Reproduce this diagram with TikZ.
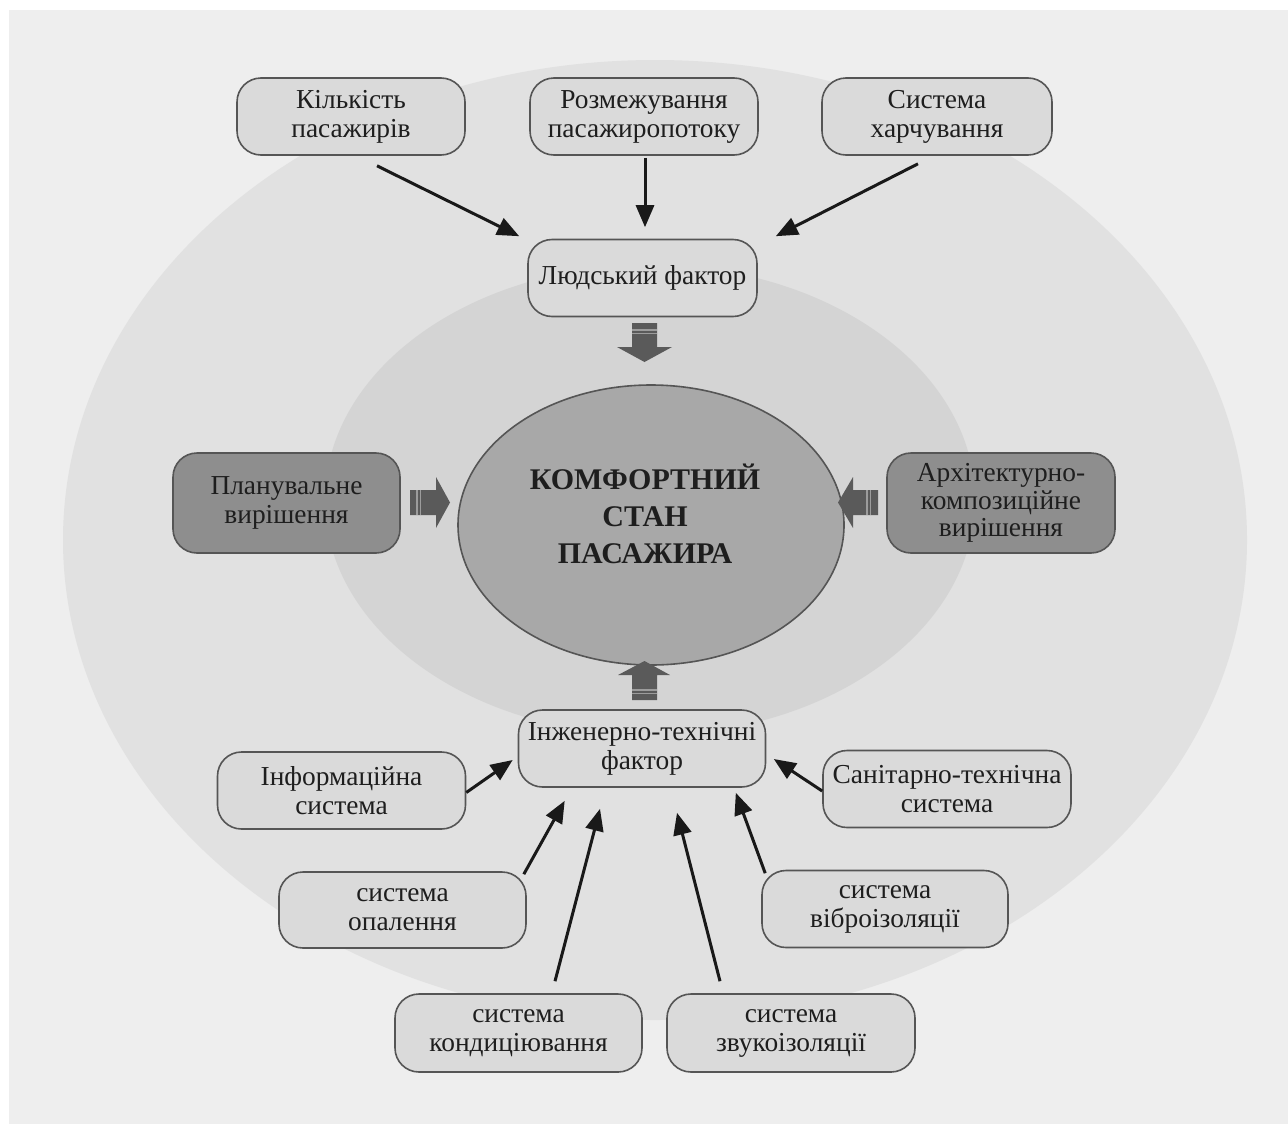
\documentclass[tikz,border=0pt]{standalone}
\usepackage{fontspec}
\setmainfont{Liberation Serif}
\usetikzlibrary{arrows.meta,shapes.geometric}
\definecolor{bgc}{HTML}{EEEEEE}
\definecolor{outc}{HTML}{E1E1E1}
\definecolor{inc}{HTML}{D4D4D4}
\definecolor{cenc}{HTML}{A8A8A8}
\definecolor{boxc}{HTML}{DADADA}
\definecolor{dboxc}{HTML}{8E8E8E}
\definecolor{bordc}{HTML}{555555}
\definecolor{txtc}{HTML}{1E1E1E}
\definecolor{blkc}{HTML}{5A5A5A}
\definecolor{strc}{HTML}{9C9C9C}
\begin{document}
\begin{tikzpicture}[x=0.5pt,y=-0.5pt,
  box/.style 2 args={draw=bordc, line width=0.8pt, fill=boxc, rounded corners=12pt,
    align=center, text=txtc, inner sep=0pt,
    font=\fontsize{13.7}{14.5}\selectfont,
    minimum width=#1*0.5pt, minimum height=#2*0.5pt},
  dbox/.style 2 args={box={#1}{#2}, fill=dboxc},
  arr/.style={line width=1.5pt, black!90, -{Triangle[length=11pt,width=9pt]}},
  blk/.style={fill=blkc},
  stripe/.style={draw=strc, line width=0.6pt}]
% background
\fill[white] (0,0) rectangle (1288,1124);
\fill[bgc] (9,10) rectangle (1288,1124);
\useasboundingbox (0,0) rectangle (1288,1124);
% ellipses
\fill[outc] (655,540) ellipse [x radius=296pt, y radius=240pt];
\fill[inc] (650,500) ellipse [x radius=162.5pt, y radius=117.5pt];
\node[ellipse, draw=bordc, line width=0.8pt, fill=cenc, minimum width=386*0.5pt,
  minimum height=280*0.5pt, inner sep=0pt] (c) at (651,525) {};
\node[align=center, text=txtc, inner sep=0pt,
  font=\fontsize{15}{18.5}\selectfont\bfseries] (ct) at (645,514)
  {КОМФОРТНИЙ\\СТАН\\ПАСАЖИРА};
% boxes
\node[box={228}{77}] (b1) at (351,116.5) {Кількість\\пасажирів};
\node[box={228}{77}] (b2) at (644,116.5) {Розмежування\\пасажиропотоку};
\node[box={230}{77}] (b3) at (937,116.5) {Система\\харчування};
\node[box={229}{77}] (b4) at (642.5,278) {Людський фактор};
\node[dbox={227}{100}] (b5) at (286.5,503) {Планувальне\\вирішення};
\node[dbox={228}{100}, font=\fontsize{13.7}{13.8}\selectfont] (b6) at (1001,503) {Архітектурно-\\композиційне\\вирішення};
\node[box={247}{77}] (b7) at (642,748.5) {Інженерно-технічні\\фактор};
\node[box={248}{77}] (b8) at (341.5,790.5) {Інформаційна\\система};
\node[box={247}{76}] (b9) at (402.5,910) {система\\опалення};
\node[box={248}{77}] (b10) at (947,789) {Санітарно-технічна\\система};
\node[box={246}{77}] (b11) at (885,909) {система\\віброізоляції};
\node[box={247}{78}] (b12) at (518.5,1033) {система\\кондиціювання};
\node[box={248}{78}] (b13) at (791,1033) {система\\звукоізоляції};
% thin arrows
\draw[arr] ([shift={(26,10)}]b1.south) -- ([shift={(-8,-2.5)}]b4.north west);
\draw[arr] ([shift={(1,2)}]b2.south) -- ([shift={(2.5,-11.5)}]b4.north);
\draw[arr] ([shift={(-19,8)}]b3.south) -- ([shift={(18,-2.5)}]b4.north east);
\draw[arr] ([shift={(0,2)}]b8.east) -- ([shift={(-5,11.5)}]b7.west);
\draw[arr] ([shift={(-3,3)}]b9.north east) -- ([shift={(47,13)}]b7.south west);
\draw[arr] ([shift={(36.5,-12)}]b12.north) -- ([shift={(-42,21)}]b7.south);
\draw[arr] ([shift={(-71,-12)}]b13.north) -- ([shift={(35,25)}]b7.south);
\draw[arr] ([shift={(4,3.5)}]b11.north west) -- ([shift={(-30.5,5)}]b7.south east);
\draw[arr] ([shift={(0,2)}]b10.west) -- ([shift={(7.5,10.5)}]b7.east);
% block arrows
\fill[blk] (632,323) -- (657,323) -- (657,347) -- (672,347) -- (644.5,362) -- (617,347) -- (632,347) -- cycle;
\draw[stripe] (632,330) -- (657,330) (632,333.5) -- (657,333.5);
\fill[blk] (632,700) -- (657,700) -- (657,675) -- (670,675) -- (644.5,661) -- (618,675) -- (632,675) -- cycle;
\draw[stripe] (632,690) -- (657,690) (632,693.5) -- (657,693.5);
\fill[blk] (410,490) -- (436,490) -- (436,477) -- (450,502.5) -- (436,528) -- (436,515) -- (410,515) -- cycle;
\draw[stripe] (417,490) -- (417,515) (420.5,490) -- (420.5,515);
\fill[blk] (878,490) -- (853,490) -- (853,477) -- (838,502.5) -- (853,528) -- (853,515) -- (878,515) -- cycle;
\draw[stripe] (867,490) -- (867,515) (870.5,490) -- (870.5,515);
\end{tikzpicture}
\end{document}
